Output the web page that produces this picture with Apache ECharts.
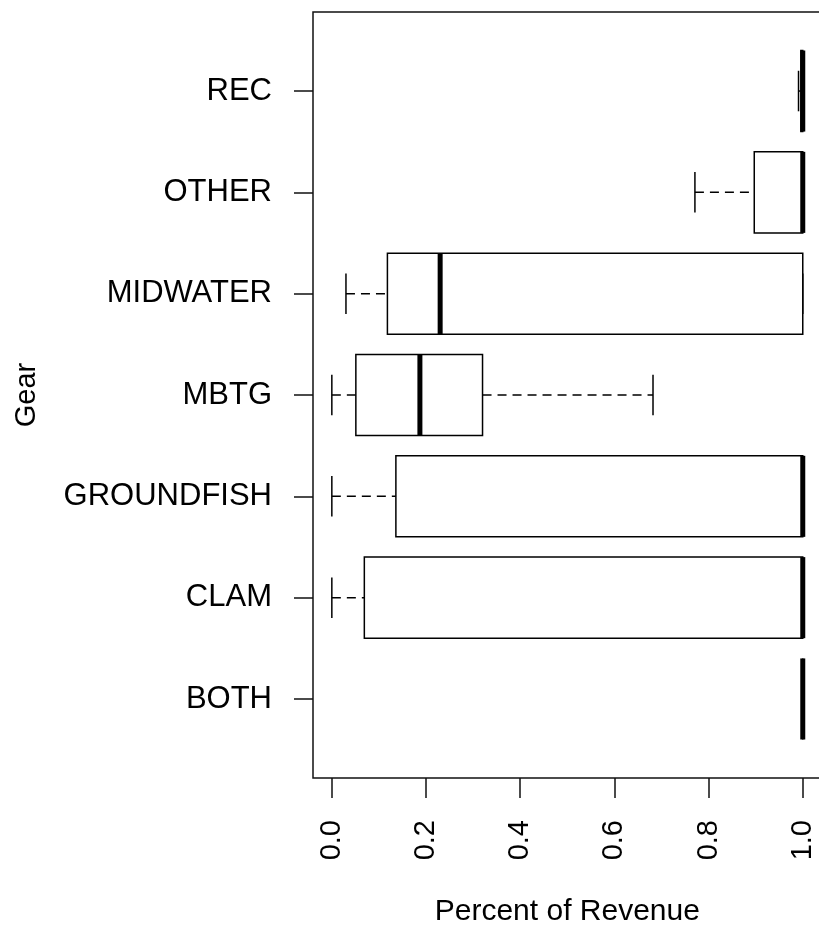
<!DOCTYPE html>
<html>
<head>
<meta charset="utf-8">
<script src="https://cdn.jsdelivr.net/npm/echarts@6/dist/echarts.min.js"></script>
<style>html,body{margin:0;padding:0;background:#fff;}#c{width:819px;height:927px;}</style>
</head>
<body>
<div id="c"></div>
<script>
// Categories bottom to top
var categories = ['BOTH', 'CLAM', 'GROUNDFISH', 'MBTG', 'MIDWATER', 'OTHER', 'REC'];
// Box statistics
var lowerWhisker = [1.0, 0.0, 0.0, 0.0, 0.03, 0.771, 0.991];
var q1          = [1.0, 0.069, 0.136, 0.051, 0.118, 0.897, 0.996];
var median      = [1.0, 1.0, 1.0, 0.187, 0.230, 1.0, 1.0];
var q3          = [1.0, 1.0, 1.0, 0.320, 1.0, 1.0, 1.0];
var upperWhisker= [1.0, 1.0, 1.0, 0.682, 1.0, 1.0, 1.0];
// Tick values / labels
var xTicks = [0, 0.2, 0.4, 0.6, 0.8, 1.0];
var xTickLabels = ['0.0', '0.2', '0.4', '0.6', '0.8', '1.0'];
var yTicks = [1, 2, 3, 4, 5, 6, 7];

var FONT = "'Liberation Sans', Arial, sans-serif";
var data = categories.map(function (c, i) {
  return [i + 1, lowerWhisker[i], q1[i], median[i], q3[i], upperWhisker[i]];
});

function renderItem(params, api) {
  var y = api.value(0);
  var lw = api.value(1), b1 = api.value(2), md = api.value(3), b3 = api.value(4), uw = api.value(5);
  var boxHalf = 0.4, stapleHalf = 0.2;
  function P(x, yy) { return api.coord([x, yy]); }
  var lineBase = { stroke: '#000', lineWidth: 1.5 };
  var children = [];
  // whiskers (dashed)
  children.push({ type: 'line', shape: { x1: P(lw, y)[0], y1: P(lw, y)[1], x2: P(b1, y)[0], y2: P(b1, y)[1] },
    style: { stroke: '#000', lineWidth: 1.5, lineDash: [9, 6] } });
  children.push({ type: 'line', shape: { x1: P(b3, y)[0], y1: P(b3, y)[1], x2: P(uw, y)[0], y2: P(uw, y)[1] },
    style: { stroke: '#000', lineWidth: 1.5, lineDash: [9, 6] } });
  // staples
  [lw, uw].forEach(function (v) {
    var a = P(v, y - stapleHalf), b = P(v, y + stapleHalf);
    children.push({ type: 'line', shape: { x1: a[0], y1: a[1], x2: b[0], y2: b[1] }, style: lineBase });
  });
  // box
  var tl = P(b1, y + boxHalf), br = P(b3, y - boxHalf);
  children.push({ type: 'rect', shape: { x: tl[0], y: tl[1], width: br[0] - tl[0], height: br[1] - tl[1] },
    style: { fill: '#fff', stroke: '#000', lineWidth: 1.5 } });
  // median
  var m1 = P(md, y + boxHalf), m2 = P(md, y - boxHalf);
  children.push({ type: 'line', shape: { x1: m1[0], y1: m1[1], x2: m2[0], y2: m2[1] },
    style: { stroke: '#000', lineWidth: 5, lineCap: 'butt' } });
  return { type: 'group', children: children };
}

var chart = echarts.init(document.getElementById('c'), null, { renderer: 'canvas' });
chart.setOption({
  animation: false,
  backgroundColor: '#fff',
  grid: {
    left: 313, top: 12, width: 508.6, height: 766,
    show: true, borderColor: '#111', borderWidth: 1.5, backgroundColor: 'transparent',
    containLabel: false, outerBoundsMode: 'none'
  },
  xAxis: {
    type: 'value', min: -0.04, max: 1.04,
    axisLine: { show: false, onZero: false },
    splitLine: { show: false },
    axisTick: { show: true, inside: false, length: 20, customValues: xTicks, lineStyle: { color: '#111', width: 1.5 } },
    axisLabel: {
      customValues: xTicks, rotate: 90, margin: 42,
      formatter: function (v) { return xTickLabels[Math.round(v * 5)]; },
      color: '#000', fontSize: 29, fontFamily: FONT
    },
    name: 'Percent of Revenue', nameLocation: 'middle', nameGap: 119,
    nameTextStyle: { color: '#000', fontSize: 30, fontFamily: FONT }
  },
  yAxis: {
    type: 'value', min: 0.22, max: 7.78,
    axisLine: { show: false, onZero: false },
    splitLine: { show: false },
    axisTick: { show: true, inside: false, length: 19, customValues: yTicks, lineStyle: { color: '#111', width: 1.5 } },
    axisLabel: {
      customValues: yTicks, margin: 41, padding: [4, 0, 0, 0],
      formatter: function (v) { return categories[Math.round(v) - 1]; },
      color: '#000', fontSize: 31, fontFamily: FONT
    },
    name: 'Gear', nameLocation: 'middle', nameGap: 272, nameRotate: 90,
    nameTextStyle: { color: '#000', fontSize: 29, fontFamily: FONT }
  },
  series: [{
    type: 'custom',
    renderItem: renderItem,
    encode: { x: [1, 2, 3, 4, 5], y: 0 },
    data: data,
    clip: true
  }]
});
</script>
</body>
</html>
